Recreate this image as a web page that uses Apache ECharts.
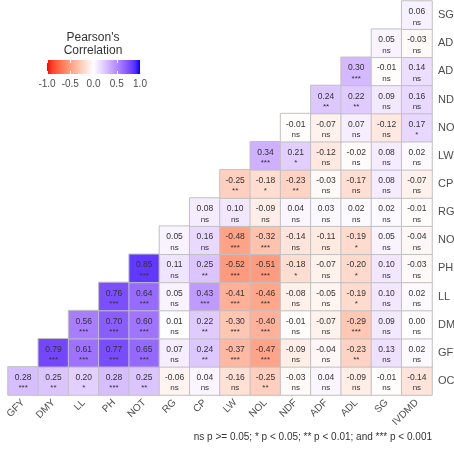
<!DOCTYPE html>
<html>
<head>
<meta charset="utf-8">
<script src="https://cdn.jsdelivr.net/npm/echarts@6/dist/echarts.min.js"></script>
<style>
  html, body { margin: 0; padding: 0; background: #fff; }
  #chart { width: 454px; height: 452px; }
</style>
</head>
<body>
<div id="chart"></div>
<script>
// variables on each axis
const xCats = ['GFY', 'DMY', 'LL', 'PH', 'NOT', 'RG', 'CP', 'LW', 'NOL', 'NDF', 'ADF', 'ADL', 'SG', 'IVDMD'];
const yCats = ['OC', 'GFY', 'DMY', 'LL', 'PH', 'NOT', 'RG', 'CP', 'LW', 'NOL', 'NDF', 'ADF', 'ADL', 'SG'];

// correlation coefficients, one row per yCats entry (bottom to top), null = empty cell
const _ = null;
const rOC  = [0.28, 0.25, 0.20, 0.28, 0.25, -0.06, 0.04, -0.16, -0.25, -0.03, 0.04, -0.09, -0.01, -0.14];
const rGFY = [_, 0.79, 0.61, 0.77, 0.65, 0.07, 0.24, -0.37, -0.47, -0.09, -0.04, -0.23, 0.13, 0.02];
const rDMY = [_, _, 0.56, 0.70, 0.60, 0.01, 0.22, -0.30, -0.40, -0.01, -0.07, -0.29, 0.09, 0.00];
const rLL  = [_, _, _, 0.76, 0.64, 0.05, 0.43, -0.41, -0.46, -0.08, -0.05, -0.19, 0.10, 0.02];
const rPH  = [_, _, _, _, 0.85, 0.11, 0.25, -0.52, -0.51, -0.18, -0.07, -0.20, 0.10, -0.03];
const rNOT = [_, _, _, _, _, 0.05, 0.16, -0.48, -0.32, -0.14, -0.11, -0.19, 0.05, -0.04];
const rRG  = [_, _, _, _, _, _, 0.08, 0.10, -0.09, 0.04, 0.03, 0.02, 0.02, -0.01];
const rCP  = [_, _, _, _, _, _, _, -0.25, -0.18, -0.23, -0.03, -0.17, 0.08, -0.07];
const rLW  = [_, _, _, _, _, _, _, _, 0.34, 0.21, -0.12, -0.02, 0.08, 0.02];
const rNOL = [_, _, _, _, _, _, _, _, _, -0.01, -0.07, 0.07, -0.12, 0.17];
const rNDF = [_, _, _, _, _, _, _, _, _, _, 0.24, 0.22, 0.09, 0.16];
const rADF = [_, _, _, _, _, _, _, _, _, _, _, 0.30, -0.01, 0.14];
const rADL = [_, _, _, _, _, _, _, _, _, _, _, _, 0.05, -0.03];
const rSG  = [_, _, _, _, _, _, _, _, _, _, _, _, _, 0.06];
const rRows = [rOC, rGFY, rDMY, rLL, rPH, rNOT, rRG, rCP, rLW, rNOL, rNDF, rADF, rADL, rSG];

// significance marks, same layout
const sOC  = ['***', '**', '*', '***', '**', 'ns', 'ns', 'ns', '**', 'ns', 'ns', 'ns', 'ns', 'ns'];
const sGFY = [_, '***', '***', '***', '***', 'ns', '**', '***', '***', 'ns', 'ns', '**', 'ns', 'ns'];
const sDMY = [_, _, '***', '***', '***', 'ns', '**', '***', '***', 'ns', 'ns', '***', 'ns', 'ns'];
const sLL  = [_, _, _, '***', '***', 'ns', '***', '***', '***', 'ns', 'ns', '*', 'ns', 'ns'];
const sPH  = [_, _, _, _, '***', 'ns', '**', '***', '***', '*', 'ns', '*', 'ns', 'ns'];
const sNOT = [_, _, _, _, _, 'ns', 'ns', '***', '***', 'ns', 'ns', '*', 'ns', 'ns'];
const sRG  = [_, _, _, _, _, _, 'ns', 'ns', 'ns', 'ns', 'ns', 'ns', 'ns', 'ns'];
const sCP  = [_, _, _, _, _, _, _, '**', '*', '**', 'ns', 'ns', 'ns', 'ns'];
const sLW  = [_, _, _, _, _, _, _, _, '***', '*', 'ns', 'ns', 'ns', 'ns'];
const sNOL = [_, _, _, _, _, _, _, _, _, 'ns', 'ns', 'ns', 'ns', '*'];
const sNDF = [_, _, _, _, _, _, _, _, _, _, '**', '**', 'ns', 'ns'];
const sADF = [_, _, _, _, _, _, _, _, _, _, _, '***', 'ns', 'ns'];
const sADL = [_, _, _, _, _, _, _, _, _, _, _, _, 'ns', 'ns'];
const sSG  = [_, _, _, _, _, _, _, _, _, _, _, _, _, 'ns'];
const sRows = [sOC, sGFY, sDMY, sLL, sPH, sNOT, sRG, sCP, sLW, sNOL, sNDF, sADF, sADL, sSG];

const legendTicks = [-1, -0.5, 0, 0.5, 1];
const note = 'ns p >= 0.05; * p < 0.05; ** p < 0.01; and *** p < 0.001';

// red - white - blue ramp, interpolated in Lab like ggplot's gradient2
function lin(c) { c /= 255; return c <= 0.04045 ? c / 12.92 : Math.pow((c + 0.055) / 1.055, 2.4); }
function gam(c) { c = c <= 0.0031308 ? 12.92 * c : 1.055 * Math.pow(c, 1 / 2.4) - 0.055; return Math.round(Math.max(0, Math.min(1, c)) * 255); }
const XN = 0.95047, ZN = 1.08883;
function toLab(rgb) {
  const [R, G, B] = rgb.map(lin);
  const X = (0.4124 * R + 0.3576 * G + 0.1805 * B) / XN;
  const Y = 0.2126 * R + 0.7152 * G + 0.0722 * B;
  const Z = (0.0193 * R + 0.1192 * G + 0.9505 * B) / ZN;
  const f = t => t > 0.008856 ? Math.cbrt(t) : 7.787 * t + 16 / 116;
  return [116 * f(Y) - 16, 500 * (f(X) - f(Y)), 200 * (f(Y) - f(Z))];
}
function fromLab([L, a, b]) {
  const fy = (L + 16) / 116, fx = fy + a / 500, fz = fy - b / 200;
  const inv = t => t * t * t > 0.008856 ? t * t * t : (t - 16 / 116) / 7.787;
  const X = XN * inv(fx), Y = inv(fy), Z = ZN * inv(fz);
  const R = 3.2406 * X - 1.5372 * Y - 0.4986 * Z;
  const G = -0.9689 * X + 1.8758 * Y + 0.0415 * Z;
  const B = 0.0557 * X - 0.2040 * Y + 1.0570 * Z;
  return 'rgb(' + gam(R) + ',' + gam(G) + ',' + gam(B) + ')';
}
const labLow = toLab([255, 0, 0]), labMid = toLab([255, 255, 255]), labHigh = toLab([0, 0, 255]);
function ramp(v) {
  const end = v < 0 ? labLow : labHigh, t = Math.abs(v);
  return fromLab(labMid.map((m, i) => m + (end[i] - m) * t));
}
const rampStops = [];
for (let k = 0; k <= 20; k++) rampStops.push(ramp(-1 + k * 0.1));

// heatmap cells
const cells = [];
rRows.forEach((row, yi) => row.forEach((r, xi) => {
  if (r !== null) cells.push([xi, yi, r, sRows[yi][xi]]);
}));

const FONT = 'Liberation Sans';
const chart = echarts.init(document.getElementById('chart'), null, { renderer: 'canvas' });

chart.setOption({
  backgroundColor: '#ffffff',
  animation: false,
  textStyle: { fontFamily: FONT },
  grid: [
    { left: 8, right: 22, top: 1, bottom: 57, containLabel: false, outerBoundsMode: 'none' },
    { left: 47, width: 93, top: 60, height: 14, containLabel: false, outerBoundsMode: 'none' }
  ],
  xAxis: [
    {
      type: 'category', gridIndex: 0, data: xCats,
      axisLine: { show: false }, axisTick: { show: false }, splitLine: { show: false },
      axisLabel: { interval: 0, rotate: 45, fontSize: 10, color: '#4d4d4d', margin: 6, fontFamily: FONT }
    },
    {
      type: 'value', gridIndex: 1, min: -1, max: 1, interval: 0.5, z: 5,
      axisLine: { show: false }, splitLine: { show: false },
      axisTick: { show: true, inside: true, length: 3, lineStyle: { color: '#ffffff', width: 1 } },
      axisLabel: { fontSize: 10, color: '#4d4d4d', margin: 5, fontFamily: FONT,
        customValues: legendTicks, formatter: v => v.toFixed(1) }
    },
    {
      type: 'value', gridIndex: 1, position: 'top', min: -1, max: 1, interval: 0.5, z: 5,
      axisLine: { show: false }, splitLine: { show: false },
      axisTick: { show: true, inside: true, length: 3, lineStyle: { color: '#ffffff', width: 1 } },
      axisLabel: { show: false }
    }
  ],
  yAxis: [
    {
      type: 'category', gridIndex: 0, data: yCats, position: 'right',
      axisLine: { show: false }, axisTick: { show: false }, splitLine: { show: false },
      axisLabel: { interval: 0, fontSize: 11, color: '#4d4d4d', margin: 6, fontFamily: FONT }
    },
    { type: 'value', gridIndex: 1, show: false, min: 0, max: 1 }
  ],
  visualMap: {
    show: false, type: 'continuous', min: -1, max: 1, dimension: 2, seriesIndex: 0,
    inRange: { color: rampStops }
  },
  graphic: [
    {
      type: 'rect', z: 1,
      shape: { x: 47, y: 60, width: 93, height: 14 },
      style: {
        fill: {
          type: 'linear', x: 0, y: 0, x2: 1, y2: 0,
          colorStops: rampStops.map((c, k) => ({ offset: k / 20, color: c }))
        }
      }
    },
    {
      type: 'text', x: 93, y: 44,
      style: {
        text: "Pearson's\nCorrelation", fontSize: 12, lineHeight: 12.5, fontFamily: FONT,
        fill: '#333333', align: 'center', verticalAlign: 'middle'
      }
    },
    {
      type: 'text', x: 432, y: 437,
      style: {
        text: note, fontSize: 10, fontFamily: FONT, fill: '#333333',
        align: 'right', verticalAlign: 'middle'
      }
    }
  ],
  series: [{
    type: 'heatmap', xAxisIndex: 0, yAxisIndex: 0,
    data: cells,
    itemStyle: { borderColor: '#c0c0c0', borderWidth: 1 },
    emphasis: { disabled: true },
    label: {
      show: true, offset: [0, 2],
      formatter: p => '{v|' + p.value[2].toFixed(2) + '}\n{s|' + p.value[3] + '}',
      rich: {
        v: { fontSize: 8.5, lineHeight: 10.5, color: '#333333', fontFamily: FONT },
        s: { fontSize: 8, lineHeight: 10.5, color: '#333333', fontFamily: FONT }
      }
    }
  }]
});
</script>
</body>
</html>
